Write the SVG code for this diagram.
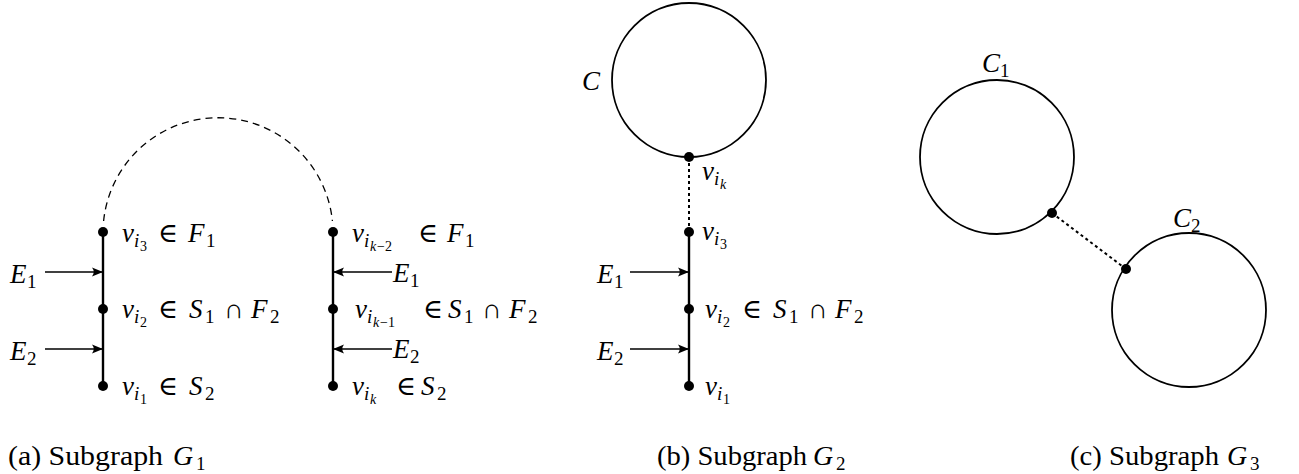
<svg xmlns="http://www.w3.org/2000/svg" width="1299" height="474" viewBox="0 0 1299 474">
<style>
text{font-family:"Times New Roman",Times,"Liberation Serif","Nimbus Roman","Noto Serif","DejaVu Serif",serif;fill:#000}
.m{font-size:27px;font-style:italic}
.r{font-size:27px}
.s{font-size:19px}
.si{font-size:19px;font-style:italic}
.ss{font-size:14px}
.ssi{font-size:14px;font-style:italic}
.cap{font-size:28px}
.path{stroke:#000;stroke-width:2.4;fill:none}
.circ{stroke:#000;stroke-width:1.8;fill:none}
.dot{fill:#000}
.arr{stroke:#000;stroke-width:1.5;fill:none;marker-end:url(#ah)}
.dash{stroke:#000;stroke-width:1.3;fill:none;stroke-dasharray:7 5}
.dotted{stroke:#000;stroke-width:2;fill:none;stroke-dasharray:3 3}
</style>
<defs>
<marker id="ah" markerUnits="userSpaceOnUse" markerWidth="14" markerHeight="12" refX="12" refY="6" orient="auto">
<path d="M12,6 L1,1.5 Q4.5,6 1,10.5 Z" fill="#000"/>
</marker>
</defs>

<g id="connectors">
<line class="path" x1="103" y1="232" x2="103" y2="386"/>
<line class="path" x1="333" y1="232" x2="333" y2="386"/>
<path class="dash" d="M103.6 221 A115 115 0 0 1 332.4 221"/>
<line class="arr" x1="45" y1="272" x2="103" y2="272"/>
<line class="arr" x1="45" y1="349" x2="103" y2="349"/>
<line class="arr" x1="392" y1="272" x2="333" y2="272"/>
<line class="arr" x1="392" y1="349" x2="333" y2="349"/>
<line class="path" x1="689" y1="232" x2="689" y2="386"/>
<line class="dotted" x1="689" y1="157" x2="689" y2="232"/>
<line class="arr" x1="630" y1="272" x2="689" y2="272"/>
<line class="arr" x1="630" y1="349" x2="689" y2="349"/>
<line class="dotted" x1="1052" y1="213" x2="1126" y2="269"/>
</g>

<g id="panel-a">
<g id="a-vi3"><circle class="dot" cx="103" cy="232" r="5"/>
<text class="m" x="122" y="242">v</text><text class="si" x="134" y="247">i</text><text class="ss" x="140" y="251">3</text><text class="r" x="158" y="242">∈</text><text class="m" x="188" y="242">F</text><text class="s" x="206" y="247">1</text></g>
<g id="a-vi2"><circle class="dot" cx="103" cy="309" r="5"/>
<text class="m" x="122" y="318">v</text><text class="si" x="134" y="323">i</text><text class="ss" x="140" y="327">2</text><text class="r" x="158" y="318">∈</text><text class="m" x="189" y="318">S</text><text class="s" x="205" y="323">1</text><text class="r" x="224" y="318">∩</text><text class="m" x="251" y="318">F</text><text class="s" x="270" y="323">2</text></g>
<g id="a-vi1"><circle class="dot" cx="103" cy="386" r="5"/>
<text class="m" x="122" y="395">v</text><text class="si" x="134" y="400">i</text><text class="ss" x="140" y="404">1</text><text class="r" x="158" y="395">∈</text><text class="m" x="189" y="395">S</text><text class="s" x="205" y="400">2</text></g>
<g id="a-vik2"><circle class="dot" cx="333" cy="232" r="5"/>
<text class="m" x="352" y="242">v</text><text class="si" x="364" y="247">i</text><text class="ssi" x="370" y="251">k</text><text class="ss" x="377" y="251">−2</text><text class="r" x="418" y="242">∈</text><text class="m" x="447" y="242">F</text><text class="s" x="465" y="247">1</text></g>
<g id="a-vik1"><circle class="dot" cx="333" cy="309" r="5"/>
<text class="m" x="355" y="318">v</text><text class="si" x="367" y="323">i</text><text class="ssi" x="373" y="327">k</text><text class="ss" x="380" y="327">−1</text><text class="r" x="423" y="318">∈</text><text class="m" x="448" y="318">S</text><text class="s" x="464" y="323">1</text><text class="r" x="482" y="318">∩</text><text class="m" x="509" y="318">F</text><text class="s" x="528" y="323">2</text></g>
<g id="a-vik"><circle class="dot" cx="333" cy="386" r="5"/>
<text class="m" x="352" y="395">v</text><text class="si" x="364" y="400">i</text><text class="ssi" x="370" y="404">k</text><text class="r" x="396" y="395">∈</text><text class="m" x="421" y="395">S</text><text class="s" x="437" y="400">2</text></g>
<g id="a-E1"><text class="m" x="10" y="283">E</text><text class="s" x="27" y="288">1</text></g>
<g id="a-E2"><text class="m" x="10" y="360">E</text><text class="s" x="27" y="365">2</text></g>
<g id="a-E1r"><text class="m" x="393" y="282">E</text><text class="s" x="410" y="287">1</text></g>
<g id="a-E2r"><text class="m" x="393" y="358">E</text><text class="s" x="410" y="363">2</text></g>
</g>

<g id="panel-b">
<g id="b-C"><circle class="circ" cx="689" cy="80" r="77"/><text class="m" x="582" y="90">C</text></g>
<g id="b-vik"><circle class="dot" cx="689" cy="157" r="5"/>
<text class="m" x="702" y="180">v</text><text class="si" x="714" y="185">i</text><text class="ssi" x="720" y="189">k</text></g>
<g id="b-vi3"><circle class="dot" cx="689" cy="232" r="5"/>
<text class="m" x="702" y="240">v</text><text class="si" x="714" y="245">i</text><text class="ss" x="720" y="249">3</text></g>
<g id="b-vi2"><circle class="dot" cx="689" cy="309" r="5"/>
<text class="m" x="705" y="318">v</text><text class="si" x="717" y="323">i</text><text class="ss" x="723" y="327">2</text><text class="r" x="742" y="318">∈</text><text class="m" x="773" y="318">S</text><text class="s" x="789" y="323">1</text><text class="r" x="808" y="318">∩</text><text class="m" x="835" y="318">F</text><text class="s" x="854" y="323">2</text></g>
<g id="b-vi1"><circle class="dot" cx="689" cy="386" r="5"/>
<text class="m" x="705" y="395">v</text><text class="si" x="717" y="400">i</text><text class="ss" x="723" y="404">1</text></g>
<g id="b-E1"><text class="m" x="597" y="283">E</text><text class="s" x="614" y="288">1</text></g>
<g id="b-E2"><text class="m" x="597" y="360">E</text><text class="s" x="614" y="365">2</text></g>
</g>

<g id="panel-c">
<g id="c-C1"><circle class="circ" cx="997" cy="157" r="77"/><text class="m" x="982" y="72">C</text><text class="s" x="1000" y="77">1</text><circle class="dot" cx="1052" cy="213" r="5"/></g>
<g id="c-C2"><circle class="circ" cx="1189" cy="310" r="77"/><text class="m" x="1173" y="227">C</text><text class="s" x="1191" y="232">2</text><circle class="dot" cx="1126" cy="269" r="5"/></g>
</g>

<g id="captions">
<text class="cap" x="8" y="465" textLength="155" lengthAdjust="spacingAndGlyphs">(a) Subgraph</text><text class="cap" font-style="italic" x="173" y="465">G</text><text class="s" x="196" y="470">1</text>
<text class="cap" x="657" y="465" textLength="150" lengthAdjust="spacingAndGlyphs">(b) Subgraph</text><text class="cap" font-style="italic" x="813" y="465">G</text><text class="s" x="836" y="470">2</text>
<text class="cap" x="1070" y="465" textLength="149" lengthAdjust="spacingAndGlyphs">(c) Subgraph</text><text class="cap" font-style="italic" x="1227" y="465">G</text><text class="s" x="1250" y="470">3</text>
</g>
</svg>
